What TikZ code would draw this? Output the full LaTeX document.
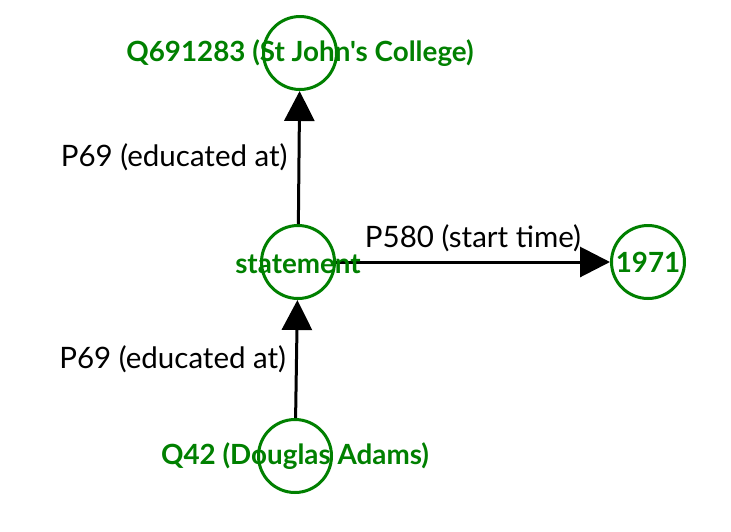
\documentclass[tikz,border=0pt]{standalone}
\usepackage{fontspec}
\setmainfont{Lato}
\newfontfamily\latoplain{Lato}
\usetikzlibrary{arrows.meta}
\definecolor{ngreen}{RGB}{0,128,0}
\begin{document}
\begin{tikzpicture}[x=1pt,y=-1pt,
  vert/.style={circle,draw=ngreen,line width=3pt,minimum size=73pt,inner sep=0pt},
  vlabel/.style={text=ngreen,font=\latoplain\fontsize{27.8}{32}\selectfont\bfseries,inner sep=0pt},
  elabel/.style={text=black,font=\fontsize{29.5}{34}\selectfont,inner sep=0pt},
  edge/.style={line width=3pt,-{Triangle[length=30pt,width=30pt]}}]
\useasboundingbox (0,0) rectangle (731,531);
\node[vert] (top) at (300,53) {};
\node[vert] (st) at (298,262) {};
\node[vert] (yr) at (648,262) {};
\node[vert] (bot) at (295,456) {};
\draw[edge] (st) -- node[elabel,anchor=east,xshift=-10pt] (l1) {P69 (educated at)} (top);
\draw[edge] (bot) -- node[elabel,anchor=east,xshift=-9pt] (l2) {P69 (educated at)} (st);
\draw[edge] (st) -- node[elabel,anchor=south,yshift=9pt] (l3) {P580 (start time)} (yr);
\node[vlabel] (ttop) at (top) {Q691283 (St John's College)};
\node[vlabel] (tst) at ([yshift=-2pt]st) {statement};
\node[vlabel] (tyr) at (yr) {1971};
\node[vlabel] (tbot) at (bot) {Q42 (Douglas Adams)};
\end{tikzpicture}
\end{document}
